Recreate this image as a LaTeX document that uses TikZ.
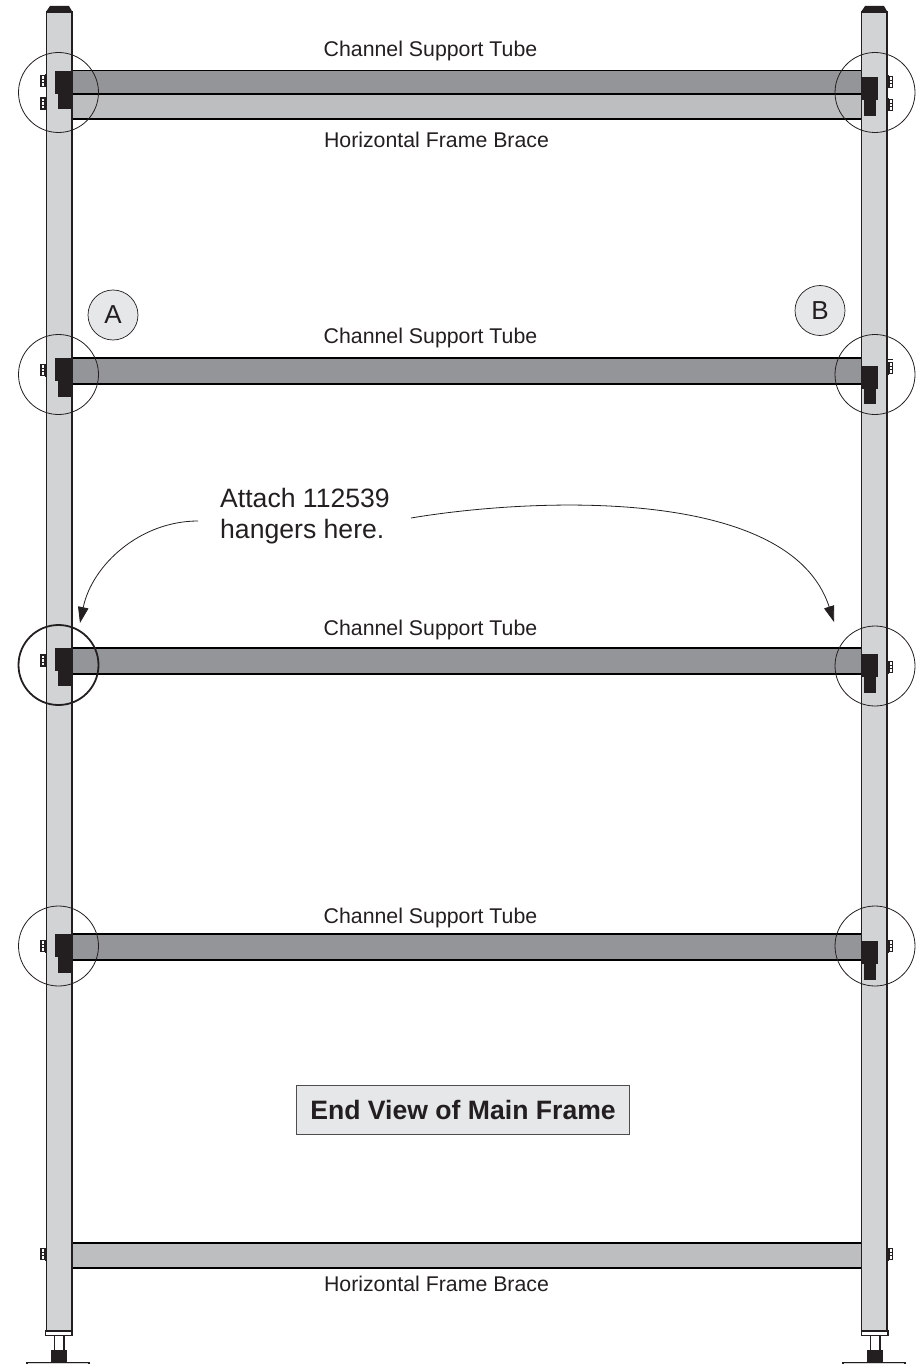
\documentclass[tikz,border=0pt]{standalone}
\usepackage{fontspec}
\setmainfont{Liberation Sans}
\usetikzlibrary{arrows.meta}
\definecolor{postgray}{HTML}{D1D3D4}
\definecolor{tubegray}{HTML}{939598}
\definecolor{bracegray}{HTML}{BCBEC0}
\definecolor{blk}{HTML}{231F20}
\definecolor{tagfill}{HTML}{E6E7E8}
\tikzset{
 x=1pt,y=-1pt,
 post/.style={draw=blk,line width=1.5pt,fill=postgray},
 tube/.style={draw=black,line width=1.2pt,fill=tubegray},
 brace/.style={draw=black,line width=1.2pt,fill=bracegray},
 hanger/.style={draw=blk,fill=blk,line width=.3pt},
 ring/.style={draw=blk,line width=.8pt},
 heavyring/.style={draw=blk,line width=1.8pt},
 lbl/.style={font=\fontsize{21.3}{25}\selectfont,text=blk,inner sep=0pt},
 callout/.style={font=\fontsize{26.6}{30.5}\selectfont,text=blk,inner sep=0pt,align=left},
 tag/.style={circle,draw=blk,line width=.7pt,fill=tagfill,minimum size=50pt,inner sep=0pt,font=\fontsize{26}{28}\selectfont,text=blk},
 titlebox/.style={draw=blk!80,line width=.9pt,fill=tagfill,minimum width=333pt,minimum height=49pt,inner sep=0pt,font=\bfseries\fontsize{26.6}{30}\selectfont,text=blk},
 arrowline/.style={draw=blk,line width=.8pt,-{Triangle[length=16pt,width=10.5pt]}},
}
\newcommand{\boltL}[1]{%
 \fill[blk] (44.5,#1-6.5) rectangle (46.5,#1+6.5);
 \draw[blk,line width=1.2pt,fill=white] (41,#1-5.5) rectangle (44.5,#1+5.5);
 \draw[blk,line width=.9pt] (41,#1-1.8) -- (44.5,#1-1.8) (41,#1+1.8) -- (44.5,#1+1.8);}
\newcommand{\boltR}[1]{%
 \fill[blk] (887,#1-6.5) rectangle (889,#1+6.5);
 \draw[blk,line width=1.2pt,fill=white] (889,#1-5.5) rectangle (892.5,#1+5.5);
 \draw[blk,line width=.9pt] (889,#1-1.8) -- (892.5,#1-1.8) (889,#1+1.8) -- (892.5,#1+1.8);}
\newcommand{\hangL}[1]{%
 \fill[hanger] (55.5,#1) rectangle (71.5,#1+22);
 \fill[hanger] (58.5,#1+23) rectangle (70.5,#1+37.5);}
\newcommand{\hangR}[1]{%
 \fill[hanger] (861.5,#1) rectangle (877.5,#1+22);
 \fill[hanger] (864,#1+23) rectangle (875.5,#1+37.5);}
\newcommand{\foot}[1]{%
 \begin{scope}[xshift=#1 pt]
 \draw[blk,line width=1.5pt,fill=white] (45.5,1331) rectangle (72,1335.5);
 \draw[blk,line width=1.8pt] (54.5,1336) -- (54.5,1351) (64,1336) -- (64,1351);
 \fill[blk] (51,1350) rectangle (67,1362);
 \draw[blk,line width=1.6pt,fill=postgray] (27,1362.5) rectangle (89,1372);
 \end{scope}}
\begin{document}
\begin{tikzpicture}
\useasboundingbox (0,0) rectangle (920,1364);
\clip (0,0) rectangle (920,1364);
% tubes and braces
\draw[brace] (72,94) rectangle (862,119);
\draw[tube] (72,70.5) rectangle (862,94);
\draw[tube] (72,358) rectangle (862,384);
\draw[tube] (72,648) rectangle (862,674);
\draw[tube] (72,934) rectangle (862,960);
\draw[brace] (72,1243) rectangle (862,1268);
% posts
\fill[blk] (46,12) -- (50,6) -- (69,6) -- (72.5,12) -- cycle;
\fill[blk] (861,12) -- (865,6) -- (884,6) -- (887.5,12) -- cycle;
\draw[post] (46.5,12) rectangle (72,1331);
\draw[post] (861.5,12) rectangle (887,1331);
\foot{0}
\foot{816}
% bolts
\boltL{81}\boltL{103.5}\boltL{370}\boltL{660.5}\boltL{946}\boltL{1254}
\boltR{82}\boltR{105}\boltR{368}\boltR{667}\boltR{946}\boltR{1254}
\draw[blk,line width=.9pt] (887,359) -- (893,359);
% hangers
\hangL{71}\hangL{358.5}\hangL{648}\hangL{934.5}
\hangR{77.5}\hangR{366}\hangR{654.5}\hangR{941.5}
% rings
\draw[ring] (58.5,92.5) circle (40);
\draw[ring] (58.5,374.5) circle (40);
\draw[heavyring] (58.5,665) circle (40);
\draw[ring] (58.5,946) circle (40);
\draw[ring] (875,92.5) circle (40);
\draw[ring] (875,374.5) circle (40);
\draw[ring] (875,666) circle (40);
\draw[ring] (875,946) circle (40);
% labels
\node[lbl] (t1) at (430.5,50.5) {Channel Support Tube};
\node[lbl] (b1) at (436.5,139.5) {Horizontal Frame Brace};
\node[lbl] (t2) at (430.5,338) {Channel Support Tube};
\node[lbl] (t3) at (430.5,629.5) {Channel Support Tube};
\node[lbl] (t4) at (430.5,918) {Channel Support Tube};
\node[lbl] (b2) at (436.5,1283.5) {Horizontal Frame Brace};
\node[tag] (a) at (113,315) {A};
\node[tag] (b) at (820,310.5) {B};
\node[callout,anchor=north west] (call) at (220,488.5) {Attach 112539\\hangers here.};
\node[titlebox] (title) at (463,1110) {End View of Main Frame};
\coordinate (ca) at (198,521);
\coordinate (ea) at (80,623);
\coordinate (cb) at (411,518);
\coordinate (eb) at (834,622);
\draw[arrowline] (ca) .. controls (140,521) and (92,565) .. (ea);
\draw[arrowline] (cb) .. controls (530,498) and (790,485) .. (eb);
\end{tikzpicture}
\end{document}
